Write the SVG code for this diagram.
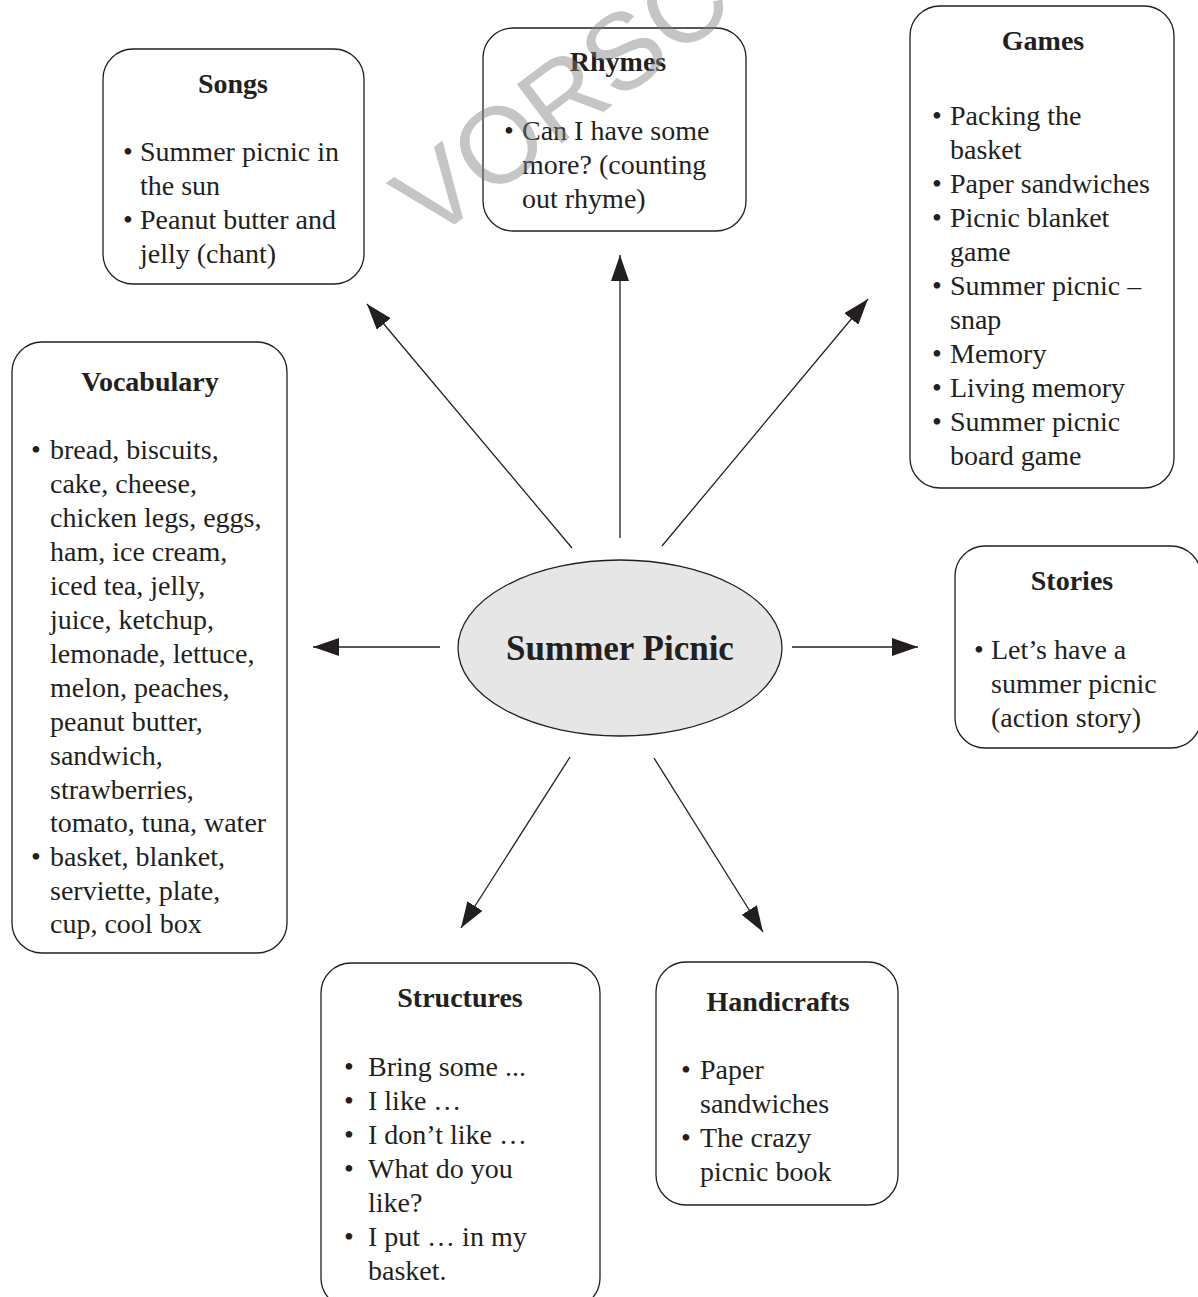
<svg xmlns="http://www.w3.org/2000/svg" width="1198" height="1297" viewBox="0 0 1198 1297">
<style>
.box{fill:#fff;stroke:#231f20;stroke-width:1.3}
.t{font-family:"Liberation Serif","Times New Roman",serif;font-size:28px;fill:#231f20}
.h{font-family:"Liberation Serif","Times New Roman",serif;font-size:28px;font-weight:bold;fill:#231f20;text-anchor:middle}
.b{text-anchor:middle}
.ln{stroke:#231f20;stroke-width:1.3;fill:none;marker-end:url(#ah)}
</style>
<defs>
<marker id="ah" markerUnits="userSpaceOnUse" markerWidth="28" markerHeight="18" refX="26" refY="9" orient="auto">
<path d="M0,0 L26,9 L0,18 Z" fill="#231f20"/>
</marker>
</defs>
<rect width="1198" height="1297" fill="#fff"/>
<g id="connectors">
<line class="ln" x1="572" y1="548" x2="367" y2="304"/>
<line class="ln" x1="620" y1="538" x2="620" y2="255"/>
<line class="ln" x1="662" y1="546" x2="868" y2="299"/>
<line class="ln" x1="440" y1="647" x2="313" y2="647"/>
<line class="ln" x1="792" y1="647" x2="918" y2="647"/>
<line class="ln" x1="570" y1="757" x2="461" y2="928"/>
<line class="ln" x1="654" y1="758" x2="763" y2="932"/>
</g>
<g id="center">
<ellipse cx="620" cy="648" rx="162" ry="88" fill="#e6e6e6" stroke="#231f20" stroke-width="1.3"/>
<text class="h" x="620" y="660" style="font-size:35px">Summer Picnic</text>
</g>
<g id="songs">
<rect class="box" x="103" y="49" width="261" height="235" rx="30"/>
<text class="h" x="233" y="93">Songs</text>
<text class="t b" x="128" y="161">•</text><text class="t" x="140" y="161">Summer picnic in</text>
<text class="t" x="140" y="195">the sun</text>
<text class="t b" x="128" y="229">•</text><text class="t" x="140" y="229">Peanut butter and</text>
<text class="t" x="140" y="263">jelly (chant)</text>
</g>
<g id="rhymes">
<rect class="box" x="483" y="28" width="263" height="203" rx="30"/>
<text class="h" x="618" y="71">Rhymes</text>
<text class="t b" x="509" y="140">•</text><text class="t" x="522" y="140">Can I have some</text>
<text class="t" x="522" y="174">more? (counting</text>
<text class="t" x="522" y="208">out rhyme)</text>
</g>
<g id="games">
<rect class="box" x="910" y="6" width="264" height="482" rx="30"/>
<text class="h" x="1043" y="50">Games</text>
<text class="t b" x="937" y="125">•</text><text class="t" x="950" y="125">Packing the</text>
<text class="t" x="950" y="159">basket</text>
<text class="t b" x="937" y="193">•</text><text class="t" x="950" y="193">Paper sandwiches</text>
<text class="t b" x="937" y="227">•</text><text class="t" x="950" y="227">Picnic blanket</text>
<text class="t" x="950" y="261">game</text>
<text class="t b" x="937" y="295">•</text><text class="t" x="950" y="295">Summer picnic –</text>
<text class="t" x="950" y="329">snap</text>
<text class="t b" x="937" y="363">•</text><text class="t" x="950" y="363">Memory</text>
<text class="t b" x="937" y="397">•</text><text class="t" x="950" y="397">Living memory</text>
<text class="t b" x="937" y="431">•</text><text class="t" x="950" y="431">Summer picnic</text>
<text class="t" x="950" y="465">board game</text>
</g>
<g id="vocabulary">
<rect class="box" x="12" y="342" width="275" height="611" rx="30"/>
<text class="h" x="150" y="391">Vocabulary</text>
<text class="t b" x="36" y="459">•</text><text class="t" x="50" y="459">bread, biscuits,</text>
<text class="t" x="50" y="493">cake, cheese,</text>
<text class="t" x="50" y="527">chicken legs, eggs,</text>
<text class="t" x="50" y="561">ham, ice cream,</text>
<text class="t" x="50" y="595">iced tea, jelly,</text>
<text class="t" x="50" y="629">juice, ketchup,</text>
<text class="t" x="50" y="663">lemonade, lettuce,</text>
<text class="t" x="50" y="697">melon, peaches,</text>
<text class="t" x="50" y="731">peanut butter,</text>
<text class="t" x="50" y="765">sandwich,</text>
<text class="t" x="50" y="799">strawberries,</text>
<text class="t" x="50" y="832">tomato, tuna, water</text>
<text class="t b" x="36" y="866">•</text><text class="t" x="50" y="866">basket, blanket,</text>
<text class="t" x="50" y="900">serviette, plate,</text>
<text class="t" x="50" y="933">cup, cool box</text>
</g>
<g id="stories">
<rect class="box" x="955" y="546" width="246" height="202" rx="30"/>
<text class="h" x="1072" y="590">Stories</text>
<text class="t b" x="979" y="659">•</text><text class="t" x="991" y="659">Let’s have a</text>
<text class="t" x="991" y="693">summer picnic</text>
<text class="t" x="991" y="727">(action story)</text>
</g>
<g id="structures">
<rect class="box" x="321" y="963" width="279" height="345" rx="30"/>
<text class="h" x="460" y="1007">Structures</text>
<text class="t b" x="349" y="1076">•</text><text class="t" x="368" y="1076">Bring some ...</text>
<text class="t b" x="349" y="1110">•</text><text class="t" x="368" y="1110">I like …</text>
<text class="t b" x="349" y="1144">•</text><text class="t" x="368" y="1144">I don’t like …</text>
<text class="t b" x="349" y="1178">•</text><text class="t" x="368" y="1178">What do you</text>
<text class="t" x="368" y="1212">like?</text>
<text class="t b" x="349" y="1246">•</text><text class="t" x="368" y="1246">I put … in my</text>
<text class="t" x="368" y="1280">basket.</text>
</g>
<g id="handicrafts">
<rect class="box" x="656" y="962" width="242" height="243" rx="30"/>
<text class="h" x="778" y="1011">Handicrafts</text>
<text class="t b" x="686" y="1079">•</text><text class="t" x="700" y="1079">Paper</text>
<text class="t" x="700" y="1113">sandwiches</text>
<text class="t b" x="686" y="1147">•</text><text class="t" x="700" y="1147">The crazy</text>
<text class="t" x="700" y="1181">picnic book</text>
</g>
<text x="430" y="243" transform="rotate(-37 430 243)" style="font-family:'Liberation Sans',Arial,sans-serif;font-size:108px;fill:#7f7f7f;fill-opacity:0.45">VORSC</text>
</svg>
